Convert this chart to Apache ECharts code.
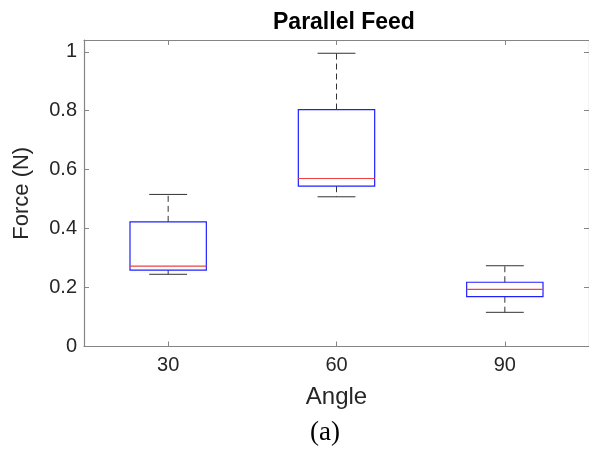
<!DOCTYPE html>
<html>
<head>
<meta charset="utf-8">
<script src="https://cdn.jsdelivr.net/npm/echarts@6/dist/echarts.min.js"></script>
<style>html,body{margin:0;padding:0;background:#fff;}#c{width:589px;height:454px;}</style>
</head>
<body>
<div id="c"></div>
<script>
// Data
var categories = ['30', '60', '90'];
var lowWhisker = [0.245, 0.508, 0.116];
var q1 = [0.259, 0.544, 0.169];
var median = [0.273, 0.570, 0.194];
var q3 = [0.423, 0.804, 0.218];
var highWhisker = [0.516, 0.995, 0.274];
var yTicks = [0, 0.2, 0.4, 0.6, 0.8, 1];

var boxData = categories.map(function (c, i) {
  return [i, lowWhisker[i], q1[i], median[i], q3[i], highWhisker[i]];
});

var chart = echarts.init(document.getElementById('c'), null, {renderer: 'canvas'});
var axisGray = '#858585';
var textGray = '#262626';
var font = 'Liberation Sans, Arial, sans-serif';

function renderBox(params, api) {
  var idx = api.value(0);
  var band = api.size([1, 0])[0];
  var bw = band * 0.4535;
  var cw = band * 0.225;
  var pLow = api.coord([idx, api.value(1)]);
  var pQ1 = api.coord([idx, api.value(2)]);
  var pMed = api.coord([idx, api.value(3)]);
  var pQ3 = api.coord([idx, api.value(4)]);
  var pHigh = api.coord([idx, api.value(5)]);
  var x = pMed[0];
  var whiskerStyle = {stroke: '#333333', lineWidth: 1, lineDash: [6, 4]};
  var capStyle = {stroke: '#333333', lineWidth: 1};
  return {
    type: 'group',
    children: [
      {type: 'line', shape: {x1: x, y1: pQ3[1], x2: x, y2: pHigh[1]}, style: whiskerStyle},
      {type: 'line', shape: {x1: x, y1: pQ1[1], x2: x, y2: pLow[1]}, style: whiskerStyle},
      {type: 'line', shape: {x1: x - cw / 2, y1: pHigh[1], x2: x + cw / 2, y2: pHigh[1]}, style: capStyle},
      {type: 'line', shape: {x1: x - cw / 2, y1: pLow[1], x2: x + cw / 2, y2: pLow[1]}, style: capStyle},
      {type: 'rect', shape: {x: x - bw / 2, y: pQ3[1], width: bw, height: pQ1[1] - pQ3[1]},
        style: {fill: 'none', stroke: '#2020ff', lineWidth: 1.2}},
      {type: 'line', shape: {x1: x - bw / 2, y1: pMed[1], x2: x + bw / 2, y2: pMed[1]},
        style: {stroke: '#f04040', lineWidth: 1.2}}
    ]
  };
}

function yLabel(v) {
  for (var i = 0; i < yTicks.length; i++) {
    if (Math.abs(v - yTicks[i]) < 1e-6) return String(yTicks[i]);
  }
  return '';
}

var option = {
  animation: false,
  backgroundColor: '#ffffff',
  title: {
    text: 'Parallel Feed',
    left: 268,
    top: 6,
    textStyle: {fontFamily: font, fontSize: 23, fontWeight: 'bold', color: '#000'}
  },
  grid: {left: 84, top: 40, width: 507, height: 306.5, containLabel: false},
  xAxis: [{
    type: 'category',
    data: categories,
    position: 'bottom',
    boundaryGap: true,
    name: 'Angle',
    nameLocation: 'middle',
    nameGap: 39,
    nameTextStyle: {fontFamily: font, fontSize: 24, color: textGray},
    axisLine: {show: true, onZero: false, lineStyle: {color: axisGray, width: 1.2}},
    axisTick: {show: true, inside: true, alignWithLabel: true, length: 5, lineStyle: {color: axisGray}},
    axisLabel: {fontFamily: font, fontSize: 20, color: textGray, margin: 9},
    splitLine: {show: false}
  }, {
    type: 'category',
    data: categories,
    position: 'top',
    boundaryGap: true,
    axisLine: {show: true, onZero: false, lineStyle: {color: axisGray, width: 1.2}},
    axisTick: {show: true, inside: true, alignWithLabel: true, length: 5, lineStyle: {color: axisGray}},
    axisLabel: {show: false},
    splitLine: {show: false}
  }],
  yAxis: [{
    type: 'value',
    min: 0,
    max: 1.04,
    interval: 0.2,
    position: 'left',
    name: 'Force (N)',
    nameLocation: 'middle',
    nameGap: 51,
    nameTextStyle: {fontFamily: font, fontSize: 22, color: textGray},
    axisLine: {show: true, onZero: false, lineStyle: {color: axisGray, width: 1.2}},
    axisTick: {show: true, inside: true, length: 5, lineStyle: {color: axisGray}},
    axisLabel: {fontFamily: font, fontSize: 20, color: textGray, margin: 7, formatter: yLabel, showMaxLabel: false},
    splitLine: {show: false}
  }, {
    type: 'value',
    min: 0,
    max: 1.04,
    interval: 0.2,
    position: 'right',
    axisLine: {show: true, onZero: false, lineStyle: {color: axisGray, width: 1.2}},
    axisTick: {show: true, inside: true, length: 5, lineStyle: {color: axisGray}},
    axisLabel: {show: false},
    splitLine: {show: false}
  }],
  series: [{
    type: 'custom',
    xAxisIndex: 0,
    yAxisIndex: 0,
    renderItem: renderBox,
    encode: {x: 0, y: [1, 2, 3, 4, 5]},
    data: boxData
  }],
  graphic: [{
    type: 'text',
    left: 310,
    top: 419,
    style: {text: '(a)', fontFamily: 'Liberation Serif, Times New Roman, serif', fontSize: 27, fill: '#000'}
  }]
};
chart.setOption(option);
</script>
</body>
</html>
